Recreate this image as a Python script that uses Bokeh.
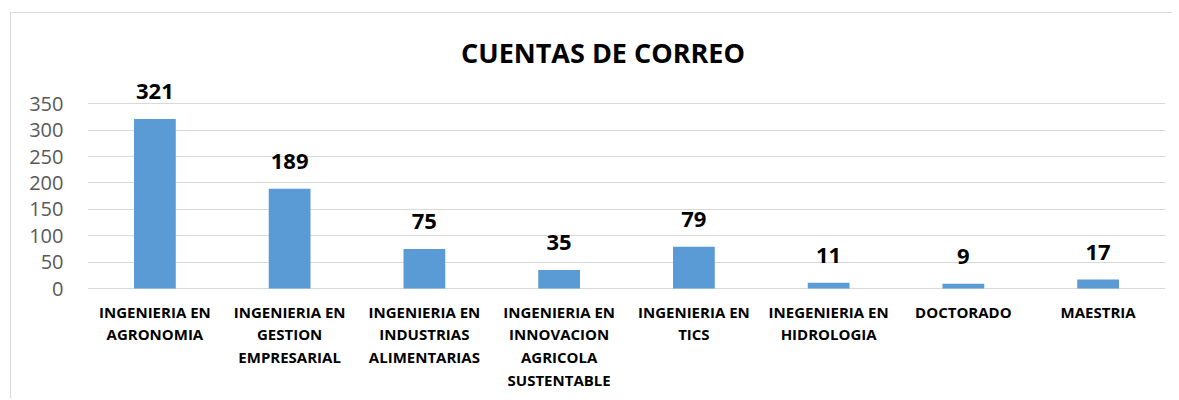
from bokeh.plotting import figure
from bokeh.models import ColumnDataSource, LabelSet, Label, Range1d, FixedTicker
from bokeh.core.properties import value
from bokeh.embed import file_html
from bokeh.resources import INLINE

title = "CUENTAS DE CORREO"
categories = [
    "INGENIERIA EN\nAGRONOMIA",
    "INGENIERIA EN\nGESTION\nEMPRESARIAL",
    "INGENIERIA EN\nINDUSTRIAS\nALIMENTARIAS",
    "INGENIERIA EN\nINNOVACION\nAGRICOLA\nSUSTENTABLE",
    "INGENIERIA EN\nTICS",
    "INEGENIERIA EN\nHIDROLOGIA",
    "DOCTORADO",
    "MAESTRIA",
]
values = [321, 189, 75, 35, 79, 11, 9, 17]
y_ticks = [0, 50, 100, 150, 200, 250, 300, 350]

FONT = "Open Sans"
xs = [i + 0.5 for i in range(len(categories))]
src = ColumnDataSource(dict(x=xs, top=values, label=[str(v) for v in values]))

# pixel geometry: axis 0..350 spans 184.7 px; frame extended to host title and labels
ppu = 184.7 / 350.0
frame_h = 376
y_max = 350 + (103.3 - 20) / ppu
y_min = y_max - frame_h / ppu

p = figure(
    width=1162, height=386,
    x_range=Range1d(0, len(categories)), y_range=Range1d(y_min, y_max),
    output_backend="svg", toolbar_location=None, title=None,
    min_border_left=76, min_border_right=8, min_border_top=7, min_border_bottom=3,
)
p.styles = {"margin-left": "10px", "margin-top": "12px",
            "border-left": "1px solid #d9d9d9", "border-top": "1px solid #d9d9d9"}
p.outline_line_color = None
p.background_fill_color = "white"
p.border_fill_color = "white"

p.vbar(x="x", top="top", width=0.31, bottom=0, source=src,
       fill_color="#5B9BD5", line_color=None)

p.xaxis.visible = False
p.xgrid.grid_line_color = None
p.ygrid.grid_line_color = "#d9d9d9"
p.ygrid.grid_line_width = 1
yax = p.yaxis[0]
yax.ticker = FixedTicker(ticks=y_ticks)
yax.axis_line_color = None
yax.major_tick_line_color = None
yax.minor_tick_line_color = None
yax.major_tick_out = 0
yax.major_tick_in = 0
yax.major_label_standoff = 24
yax.major_label_text_font = FONT
yax.major_label_text_font_size = "20px"
yax.major_label_text_color = "#595959"

p.add_layout(LabelSet(x="x", y="top", text="label", source=src,
                      y_offset=20, text_align="center", text_baseline="alphabetic",
                      text_font=value(FONT), text_font_size=value("22px"),
                      text_font_style=value("bold"), text_color=value("black")))

for xi, cat in zip(xs, categories):
    for k, line in enumerate(cat.split("\n")):
        p.add_layout(Label(x=xi, y=0, y_offset=-23 - 22.8 * k, text=line,
                           text_align="center", text_baseline="alphabetic",
                           text_font=FONT, text_font_size="15px",
                           text_font_style="bold", text_color="black"))

p.add_layout(Label(x=len(categories) / 2, y=0, x_offset=-23.5, y_offset=236,
                   text=title, text_align="center", text_baseline="alphabetic",
                   text_font=FONT, text_font_size="27px", text_font_style="bold",
                   text_color="black"))

open("out.html", "w").write(file_html(p, INLINE))
